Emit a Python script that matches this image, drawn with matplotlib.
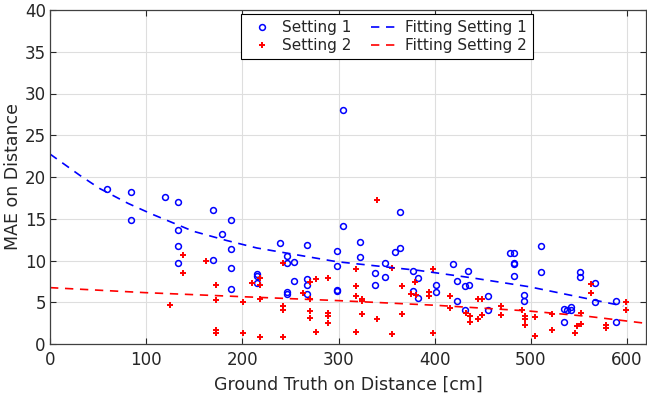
import matplotlib
matplotlib.use('Agg')
from matplotlib import pyplot as plt

# Setting 1 (blue circles)
s1_x = [59.5, 84, 84, 119.4, 133, 133, 133, 133, 169, 169, 179, 188.6, 188.6, 188.6, 188.6,
        304.6, 304.6, 363.5, 239, 267, 246.8, 246.8, 254, 215.7, 215.7, 215.7, 254, 267, 267, 267,
        246.8, 246.8, 298.7, 298.7, 298.7, 298.7, 322, 322, 338, 338, 348.4, 348.4, 358.8, 363.5,
        377.7, 382.9, 377.7, 382.9,
        400.9, 400.9, 418.6, 422.8, 422.8, 431, 435.4, 435, 431, 455.2, 455.2, 477.8, 482.3, 482,
        482, 482, 492.7, 492.7, 510.7, 510.7, 534.2, 537.7, 541.9, 541.9, 534.2, 551, 551, 567, 567,
        588.6, 588.6]
s1_y = [18.56, 18.2, 14.8, 17.6, 17.0, 13.7, 11.7, 9.7, 16.0, 10.06, 13.2, 14.8, 11.4, 9.06, 6.55,
        28.06, 14.17, 15.85, 12.06, 11.9, 10.58, 9.74, 9.78, 8.35, 8.18, 7.27, 7.54, 7.78, 7.07, 5.95,
        6.26, 5.99, 11.18, 9.38, 6.5, 6.38, 12.17, 10.38, 8.5, 7.07, 9.74, 8.06, 10.98, 11.53,
        8.74, 7.87, 6.38, 5.55,
        7.1, 6.23, 9.54, 7.58, 5.11, 6.91, 7.1, 8.74, 4.11, 5.79, 4.03, 10.93, 10.93, 9.74,
        9.62, 8.1, 5.83, 5.19, 11.74, 8.59, 4.23, 4.03, 4.03, 4.47, 2.67, 8.59, 8.02, 7.3, 5.07,
        5.19, 2.6]

# Setting 2 (red plus)
s2_x = [124.6, 138.4, 138.4, 161.7, 172.7, 172.7, 172.7, 172.7, 201, 201,
        210, 218.4, 218.4, 218.4, 218.4, 242, 242, 242, 242, 263, 270.4, 270.4, 270.4, 270.4,
        276.6, 276.6, 289.4, 289.4, 289.4, 289.4, 318.5, 318.5, 318.5, 318.5, 324.5, 324.5, 324.5,
        340, 340, 355.5, 365.6, 365.6, 355.5, 379.6, 375.8, 380, 394, 394,
        398.6, 398.6, 416, 416, 444.9, 449, 433, 437, 437, 444.9, 449, 468.5, 468.5, 490.4,
        494, 494, 494, 504.7, 504.7, 522.4, 522, 545.6, 548.4, 551.8, 552, 562.4, 562.4,
        577.7, 577.7, 599.3, 599.3]
s2_y = [4.67, 10.6, 8.5, 9.9, 7.07, 5.3, 1.7, 1.3, 5.07, 1.3,
        7.27, 7.9, 7.03, 5.43, 0.8, 9.74, 4.59, 4.07, 0.88, 6.07, 7.46, 5.35, 3.99, 3.15,
        7.78, 1.4, 7.9, 3.75, 3.39, 2.5, 8.94, 6.95, 5.79, 1.47, 5.39, 5.15, 3.59,
        17.24, 3.03, 9.1, 6.91, 3.55, 1.2, 7.39, 6.03, 5.87, 6.19, 5.75,
        8.94, 1.36, 5.75, 4.35, 5.43, 5.43, 3.67, 3.35, 2.67, 3.03, 3.43, 4.51, 3.51, 4.07,
        3.39, 2.99, 2.24, 3.2, 1.0, 1.71, 3.63, 1.32, 2.19, 2.43, 3.67, 7.22, 6.14,
        2.28, 1.88, 4.99, 4.07]

# fitted curves
fit1_x = [0, 31, 52, 81, 105, 149, 183.5, 215, 298, 384, 440, 498, 523, 596]
fit1_y = [22.75, 20.2, 18.6, 16.85, 15.6, 13.5, 12.4, 11.5, 9.86, 8.8, 7.9, 6.86, 6.27, 4.55]
fit2_x = [0, 99, 199, 301, 402, 498, 560, 620]
fit2_y = [6.75, 6.15, 5.67, 5.19, 4.63, 3.95, 3.3, 2.47]

x_ticks = [0, 100, 200, 300, 400, 500, 600]
y_ticks = [0, 5, 10, 15, 20, 25, 30, 35, 40]

txt = '#262626'
plt.rcParams['font.family'] = ['DejaVu Sans']

fig = plt.figure(figsize=(6.47, 3.96), dpi=100)
ax = fig.add_axes([50 / 647, 1 - 344 / 396, 1 - 50 / 647 - 0.001, (344 - 10) / 396])

ax.plot(s1_x, s1_y, 'o', mfc='none', mec='#0000ff', mew=1.1, ms=4.2, ls='none', label='Setting 1')
ax.plot(s2_x, s2_y, '+', color='#ff0000', mew=1.4, ms=3.8, ls='none', label='Setting 2')
ax.plot(fit1_x, fit1_y, '--', color='#0000ff', lw=1.2, dashes=(5, 4), label='Fitting Setting 1')
ax.plot(fit2_x, fit2_y, '--', color='#ff0000', lw=1.2, dashes=(5, 4), label='Fitting Setting 2')

ax.set_xlim(0, 620)
ax.set_ylim(0, 40)
ax.set_xticks(x_ticks)
ax.set_yticks(y_ticks)
ax.grid(True, color='#dedede', lw=0.8)
ax.set_axisbelow(True)
ax.tick_params(direction='in', top=True, right=True, length=4, width=0.8,
               labelsize=12, colors=txt)
ax.tick_params(axis='x', pad=5)
ax.tick_params(axis='y', pad=3)
for s in ax.spines.values():
    s.set_color('#404040')
    s.set_linewidth(0.9)

ax.set_xlabel('Ground Truth on Distance [cm]', fontsize=12.5, color=txt, labelpad=5)
ax.set_ylabel('MAE on Distance', fontsize=12.5, color=txt, labelpad=2)

leg = ax.legend(ncol=2, loc='upper center', bbox_to_anchor=(387 / 647, 1 - 14 / 396),
                bbox_transform=fig.transFigure, fontsize=11, frameon=True, fancybox=False,
                framealpha=1, edgecolor='black', handlelength=2.0, handletextpad=0.25,
                columnspacing=1.3, borderpad=0.4, labelspacing=0.2, numpoints=1,
                borderaxespad=0)
leg.get_frame().set_linewidth(0.8)
for t in leg.get_texts():
    t.set_color(txt)

fig.savefig('out.png', dpi=100)
